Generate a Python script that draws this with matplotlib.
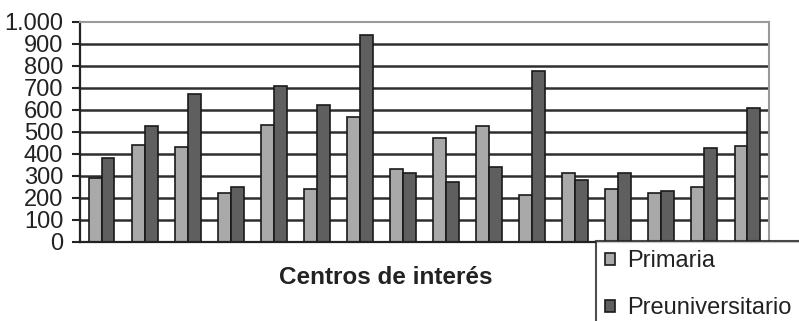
import numpy as np
import matplotlib

matplotlib.use("Agg")
import matplotlib.pyplot as plt

plt.rcParams.update({
    "font.family": ["Liberation Sans", "DejaVu Sans"],
    "text.color": "#222222",
    "axes.labelcolor": "#222222",
    "ytick.color": "#222222",
})

# number of students per centre of interest
CATEGORIES = [f"C{i}" for i in range(1, 17)]
PRIMARIA = [290, 440, 430, 220, 530, 240, 565, 330, 470, 525, 210, 310, 240, 220, 250, 435]
PREUNIV = [380, 525, 670, 250, 710, 620, 940, 310, 270, 340, 775, 280, 310, 230, 425, 610]
YTICKS = [0, 100, 200, 300, 400, 500, 600, 700, 800, 900, 1000]
YTICK_LABELS = ["0", "100", "200", "300", "400", "500", "600", "700", "800", "900", "1.000"]

LIGHT, DARK = "#a9a9a9", "#5f5f5f"

fig = plt.figure(figsize=(7.99, 3.21), dpi=100)
ax = fig.add_axes([80 / 799, 1 - 241.5 / 321, 689 / 799, 219.5 / 321])

x = np.arange(len(CATEGORIES))
w = 0.3
ax.bar(x - w / 2, PRIMARIA, w, color=LIGHT, edgecolor="#1a1a1a", lw=1.2,
       label="Primaria", zorder=3)
ax.bar(x + w / 2, PREUNIV, w, color=DARK, edgecolor="#1a1a1a", lw=1.2,
       label="Preuniversitario", zorder=3)

ax.set_xlim(-0.5, len(CATEGORIES) - 0.5)
ax.set_ylim(0, 1000)
ax.set_yticks(YTICKS)
ax.set_yticklabels(YTICK_LABELS, fontsize=17)
ax.tick_params(axis="y", length=6, width=1.5, color="#222222", pad=6)
ax.set_xticks([])
for yv in YTICKS[1:-1]:
    ax.axhline(yv, color="#2e2e2e", lw=1.8, zorder=1)

for side in ("top", "right"):
    ax.spines[side].set_color("#9a9a9a")
    ax.spines[side].set_linewidth(1.5)
ax.spines["left"].set_color("#222222")
ax.spines["left"].set_linewidth(1.6)
ax.spines["bottom"].set_visible(False)
# baseline runs on under the legend box to the figure edge
ax.axhline(0, xmin=0, xmax=(799 - 80) / 689, color="#222222", lw=1.6,
           clip_on=False, zorder=4)

ax.set_xlabel("Centros de interés", fontsize=17.5, fontweight="bold")
ax.xaxis.set_label_coords((386 - 80) / 689, -(277 - 241.5) / 219.5)
ax.xaxis.label.set_va("center")

leg = fig.legend(loc="upper left", bbox_to_anchor=(596 / 799, 1 - 241 / 321),
                 borderaxespad=0, fontsize=17, frameon=True, fancybox=False,
                 handlelength=0.42, handleheight=0.42, handletextpad=0.5,
                 labelspacing=1.05, borderpad=0.4)
leg.get_frame().set_edgecolor("#222222")
leg.get_frame().set_linewidth(1.5)

fig.savefig("out.png", dpi=100)
